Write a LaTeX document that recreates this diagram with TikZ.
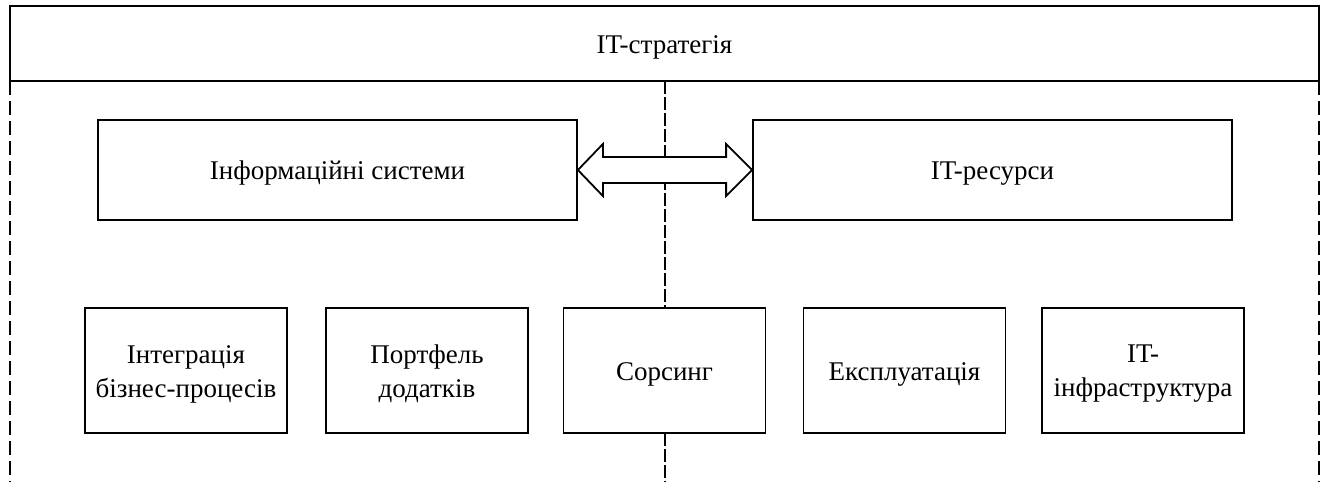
\documentclass[tikz,border=0pt]{standalone}
\usepackage{fontspec}
\setmainfont{Liberation Serif}
\usetikzlibrary{calc}
\begin{document}
\begin{tikzpicture}[x=1pt,y=-1pt,
  txt/.style={font=\fontsize{27}{34}\selectfont,align=center,inner sep=0pt,yshift=-3.5pt},
  boxnode/.style={draw,line width=1.8pt,fill=white,inner sep=0pt},
  wide/.style={boxnode,minimum width=479pt,minimum height=100pt},
  small/.style={boxnode,minimum width=202pt,minimum height=125pt},
  frame/.style={line width=1.8pt,dash pattern=on 14pt off 6pt},
  axisline/.style={line width=2pt,dash pattern=on 13pt off 3pt}]
\useasboundingbox (0,0) rectangle (1323,482);

% outer dashed frame and central axis
\coordinate (bl) at (10,482);
\coordinate (br) at (1319,482);
\coordinate (axtop) at (664.5,81);
\coordinate (axis) at (axtop |- bl);
\draw[frame] (10,81) -- (bl);
\draw[frame] (1319,81) -- (br);
\draw[axisline] (axtop) -- (axis);
\node[boxnode,minimum width=1309pt,minimum height=75pt,
      label={[txt]center:IT-стратегія}] (top) at (664.5,43.5) {};

% upper pair of blocks
\node[wide,label={[txt]center:Інформаційні системи}] (is)  at (337.5,170) {};
\node[wide,label={[txt]center:IT-ресурси}] (res) at (992.5,170) {};

% two-way block arrow between them
\draw[line width=1.8pt,fill=white,line join=miter]
  (is.east) -- ++(25,-26) -- ++(0,13) -- ($(res.west)+(-26,-13)$) -- ++(0,-13)
  -- (res.west) -- ++(-26,26) -- ++(0,-13) -- ($(is.east)+(25,13)$) -- ++(0,13) -- cycle;

% lower row of blocks
\node[small,label={[txt]center:{Інтеграція\\бізнес-процесів}}] (b1) at (186,370.5) {};
\node[small,label={[txt]center:{Портфель\\додатків}}] (b2) at (427,370.5) {};
\node[small,label={[txt]center:Сорсинг}] (b3) at (664.5,370.5) {};
\node[small,label={[txt]center:Експлуатація}] (b4) at (904.5,370.5) {};
\node[small,label={[txt]center:{IT-\\інфраструктура}}] (b5) at (1143,370.5) {};
\end{tikzpicture}
\end{document}
